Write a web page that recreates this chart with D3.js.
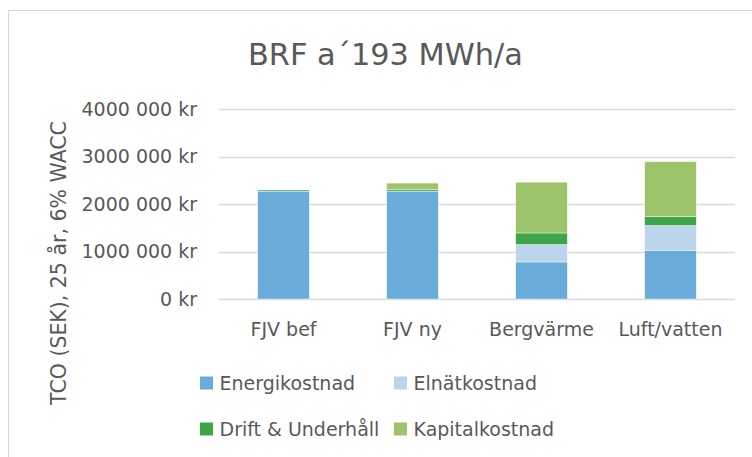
<!DOCTYPE html>
<html><head><meta charset="utf-8">
<script src="https://cdn.jsdelivr.net/npm/d3@7"></script>
<style>body{margin:0;background:#fff}svg{display:block}text{font-family:"DejaVu Sans",sans-serif;fill:#595959}</style>
</head><body><svg id="c" width="752" height="457"></svg>
<script>
const categories = ["FJV bef", "FJV ny", "Bergvärme", "Luft/vatten"];
const seriesNames = ["Energikostnad", "Elnätkostnad", "Drift & Underhåll", "Kapitalkostnad"];
const energikostnad = [2270000, 2270000, 780000, 1025000];
const elnatkostnad = [0, 0, 365000, 520000];
const driftUnderhall = [25000, 30000, 245000, 195000];
const kapitalkostnad = [0, 140000, 1070000, 1150000];
const colors = ["#69acd9", "#bdd5ec", "#3fa348", "#9dc46b"];
const tickValues = [0, 1000000, 2000000, 3000000, 4000000];
const tickLabels = ["0 kr", "1000 000 kr", "2000 000 kr", "3000 000 kr", "4000 000 kr"];
const title = "BRF a´193 MWh/a";
const yTitle = "TCO (SEK), 25 år, 6% WACC";

const svg = d3.select("#c");
svg.append("rect").attr("x", 8.5).attr("y", 10.5).attr("width", 800).attr("height", 500)
  .attr("fill", "#fff").attr("stroke", "#d9d9d9");

const m = {left: 219, right: 735, top: 109, bottom: 299};
const x = d3.scaleBand().domain(categories).range([m.left, m.right]).paddingInner(0.6).paddingOuter(0.3);
const y = d3.scaleLinear().domain([0, 4000000]).range([m.bottom, m.top]);

// grid
svg.append("g").selectAll("line").data(tickValues).join("line")
  .attr("x1", m.left).attr("x2", m.right)
  .attr("y1", d => Math.round(y(d)) + 0.5).attr("y2", d => Math.round(y(d)) + 0.5)
  .attr("stroke", "#d9d9d9").attr("stroke-width", 1.5);

// y axis labels
const yAxis = d3.axisLeft(y).tickValues(tickValues).tickFormat((d, i) => tickLabels[i]).tickSize(0).tickPadding(0);
const ga = svg.append("g").attr("transform", `translate(${197},0)`).call(yAxis);
ga.select(".domain").remove();
ga.selectAll("text").attr("font-size", 19).attr("font-family", "DejaVu Sans").attr("fill", "#595959");

// stacks
const data = categories.map((c, i) => ({cat: c, s0: energikostnad[i], s1: elnatkostnad[i], s2: driftUnderhall[i], s3: kapitalkostnad[i]}));
const stack = d3.stack().keys(["s0", "s1", "s2", "s3"])(data);
svg.append("g").selectAll("g").data(stack).join("g").attr("fill", (d, i) => colors[i])
  .selectAll("rect").data(d => d).join("rect")
  .attr("x", d => x(d.data.cat)).attr("width", x.bandwidth())
  .attr("y", d => y(d[1])).attr("height", d => y(d[0]) - y(d[1]))
  .attr("stroke", "#fff").attr("stroke-width", 0.6).attr("stroke-opacity", 0.7);

// x axis labels
const xAxis = d3.axisBottom(x).tickSize(0).tickPadding(0);
const gx = svg.append("g").attr("transform", `translate(0,${322})`).call(xAxis);
gx.select(".domain").remove();
gx.selectAll("text").attr("font-size", 19).attr("font-family", "DejaVu Sans").attr("fill", "#595959");

// title
svg.append("text").attr("x", 385.5).attr("y", 65).attr("text-anchor", "middle")
  .attr("font-size", 30.4).text(title);

// y title
svg.append("text").attr("transform", "translate(66,263) rotate(-90)").attr("text-anchor", "middle")
  .attr("font-size", 20.5).text(yTitle);

// legend
const legPos = [[200, 383], [394, 383], [200, 429], [394, 429]];
const lg = svg.append("g").selectAll("g").data(seriesNames).join("g")
  .attr("transform", (d, i) => `translate(${legPos[i][0]},${legPos[i][1]})`);
lg.append("rect").attr("x", 0).attr("y", -6.5).attr("width", 13).attr("height", 13).attr("fill", (d, i) => colors[i]);
lg.append("text").attr("x", 19.5).attr("y", 7).attr("font-size", 19).text(d => d);
</script></body></html>
